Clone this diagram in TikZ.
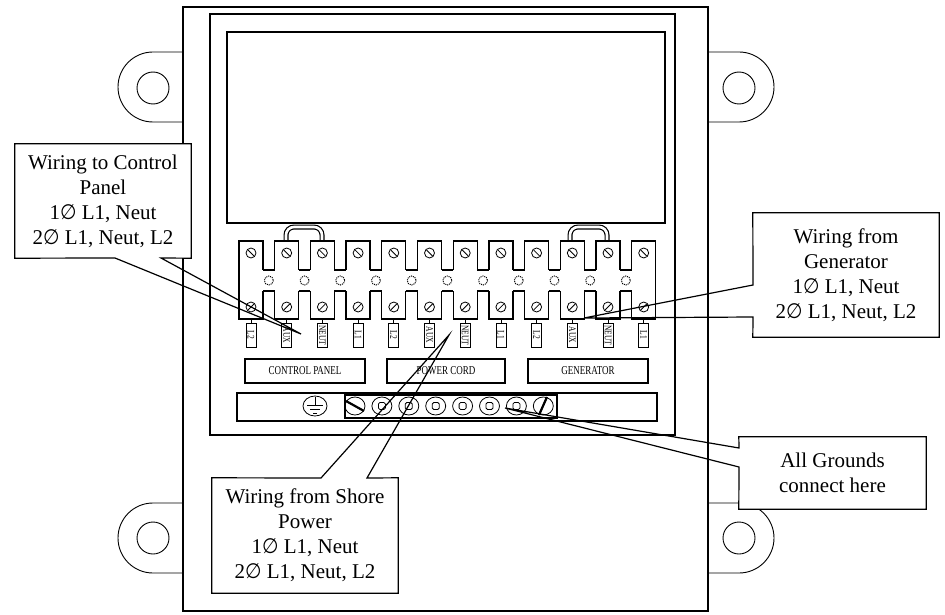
\documentclass[tikz,border=0pt]{standalone}
\usepackage{fontspec}
\setmainfont{Liberation Serif}
\newfontfamily\symf{DejaVu Sans}
\usepackage{graphicx}
\newcommand{\condtxt}[1]{\scalebox{0.75}[1]{#1}}
\newcommand{\phz}{{\symf\scalebox{0.9}[1.0]{∅}}}
\begin{document}
\begin{tikzpicture}[x=1pt,y=-1pt]
\tikzset{
 devline/.style={line width=1.3pt},
 boxline/.style={line width=1.2pt},
 earline/.style={line width=0.9pt},
 screw/.style={line width=0.8pt},
 cbox/.style={fill=white, inner sep=0pt, align=center, font=\fontsize{21}{25}\selectfont},
 cline/.style={line width=1.2pt, line join=miter},
 tlabel/.style={draw, line width=0.8pt, rotate=-90, minimum width=24pt, minimum height=10pt, inner sep=0pt, font=\fontsize{10}{10}\selectfont, fill=white},
 gbox/.style={draw, line width=1.1pt, minimum height=24pt, inner sep=0pt, font=\fontsize{12}{12}\selectfont},
 jumper/.style={draw=black, line width=1.2pt, double=white, double distance=2.6pt, rounded corners=8pt},
}
\useasboundingbox (0,0) rectangle (945,615);
% mounting ears
\draw[earline] (183,52) -- (153,52) arc[start angle=270, end angle=90, radius=35] -- (183,122);
\draw[earline] (708,52) -- (739,52) arc[start angle=270, end angle=450, radius=35] -- (708,122);
\draw[earline] (183,503) -- (153,503) arc[start angle=270, end angle=90, radius=35] -- (183,573);
\draw[earline] (708,503) -- (739,503) arc[start angle=270, end angle=450, radius=35] -- (708,573);
\foreach \cx/\cy in {153/88, 739/88, 153/538, 739/538}
  \draw[earline] (\cx,\cy) circle[radius=16];
% housing
\draw[line width=2.6pt] (183,7) rectangle (708,611);
\draw[boxline] (210,14) rectangle (675,435);
\draw[boxline] (227,32) rectangle (665,223);
% jumpers
\draw[jumper] (286,241) -- (286,227) -- (322,227) -- (322,241);
\draw[jumper] (570,241) -- (570,227) -- (607,227) -- (607,241);
% terminal strip
\foreach \i/\lab in {0/L2,1/AUX,2/NEUT,3/L1,4/L2,5/AUX,6/NEUT,7/L1,8/L2,9/AUX,10/NEUT,11/L1} {
  \pgfmathsetmacro\xa{239+35.7*\i}
  \pgfmathsetmacro\xb{\xa+24}
  \pgfmathsetmacro\xc{\xa+12}
  \draw[devline] (\xa,270) -- (\xa,241) -- (\xb,241) -- (\xb,270);
  \draw[devline] (\xa,291) -- (\xa,319) -- (\xb,319) -- (\xb,291);
  \draw[screw] (\xc,253) circle[radius=5];
  \draw[screw] (\xc-3,250) -- (\xc+3,256);
  \draw[screw] (\xc,307) circle[radius=5];
  \draw[screw] (\xc-3,310) -- (\xc+3,304);
  \node[tlabel] (lab\i) at (\xc,335) {\condtxt{\lab}};
  \draw[screw] (\xc,319) -- (lab\i.west);
}
\foreach \i in {0,...,10} {
  \pgfmathsetmacro\xb{239+35.7*\i+24}
  \pgfmathsetmacro\xn{239+35.7*(\i+1)}
  \pgfmathsetmacro\xm{(\xb+\xn)/2}
  \draw[devline] (\xb,270) -- (\xn,270) (\xb,291) -- (\xn,291);
  \draw[line width=1pt, densely dotted] (\xm,280.5) circle[radius=4.5];
}
\draw[devline] (239,270) -- (239,291) (655.7,270) -- (655.7,291);
% group boxes
\node[gbox, minimum width=120pt] (gcp) at (305,371) {\condtxt{CONTROL PANEL}};
\node[gbox, minimum width=118pt] (gpc) at (446,371) {\condtxt{POWER CORD}};
\node[gbox, minimum width=120pt] (ggen) at (588,371) {\condtxt{GENERATOR}};
% ground bar
\draw[boxline] (237,393) rectangle (657,421);
\draw[boxline] (345,395) rectangle (557,418);
\draw[screw] (315,406) ellipse[x radius=12, y radius=10];
\draw[screw] (315,397) -- (315,405) (307,405) -- (323,405) (310,409) -- (320,409) (313,413) -- (317,413);
\foreach \i in {0,...,7} {
  \pgfmathsetmacro\gx{355+26.9*\i}
  \draw[screw] (\gx,406) ellipse[x radius=10, y radius=9];
}
\foreach \i in {1,...,6} {
  \pgfmathsetmacro\gx{355+26.9*\i}
  \draw[screw, rounded corners=1.5pt] (\gx-3.5,402.5) rectangle (\gx+3.5,409.5);
}
\draw[line width=2.2pt] (346,401) -- (364,411);
\draw[line width=2.2pt] (539,415) -- (547,397);
% callouts
\node[cbox, minimum width=176pt, minimum height=114pt] (cp) at (103,201)
  {Wiring to Control\\Panel\\1\phz{} L1, Neut\\2\phz{} L1, Neut, L2};
\coordinate (cpL) at (115,258); \coordinate (cpR) at (161,258); \coordinate (cpT) at (301,334);
\draw[cline] (cpL) -- (cp.south west) -- (cp.north west) -- (cp.north east) -- (cp.south east) -- (cpR) -- (cpT) -- cycle;

\node[cbox, minimum width=186pt, minimum height=124pt] (gen) at (846,275)
  {Wiring from\\Generator\\1\phz{} L1, Neut\\2\phz{} L1, Neut, L2};
\coordinate (genA) at (753,285); \coordinate (genB) at (753,317); \coordinate (genT) at (584,318);
\draw[cline] (genA) -- (gen.north west) -- (gen.north east) -- (gen.south east) -- (gen.south west) -- (genB) -- (genT) -- cycle;

\node[cbox, minimum width=186pt, minimum height=115pt] (sh) at (305,535.5)
  {Wiring from Shore\\Power\\1\phz{} L1, Neut\\2\phz{} L1, Neut, L2};
\coordinate (shA) at (321,478); \coordinate (shB) at (367,478); \coordinate (shT) at (449,335);
\draw[cline] (shA) -- (sh.north west) -- (sh.south west) -- (sh.south east) -- (sh.north east) -- (shB) -- (shT) -- cycle;

\node[cbox, minimum width=187pt, minimum height=72pt] (gnd) at (832.5,473)
  {All Grounds\\connect here};
\coordinate (gndA) at (739,448); \coordinate (gndB) at (739,467); \coordinate (gndT) at (505,408);
\draw[cline] (gndA) -- (gnd.north west) -- (gnd.north east) -- (gnd.south east) -- (gnd.south west) -- (gndB) -- (gndT) -- cycle;
\end{tikzpicture}
\end{document}
